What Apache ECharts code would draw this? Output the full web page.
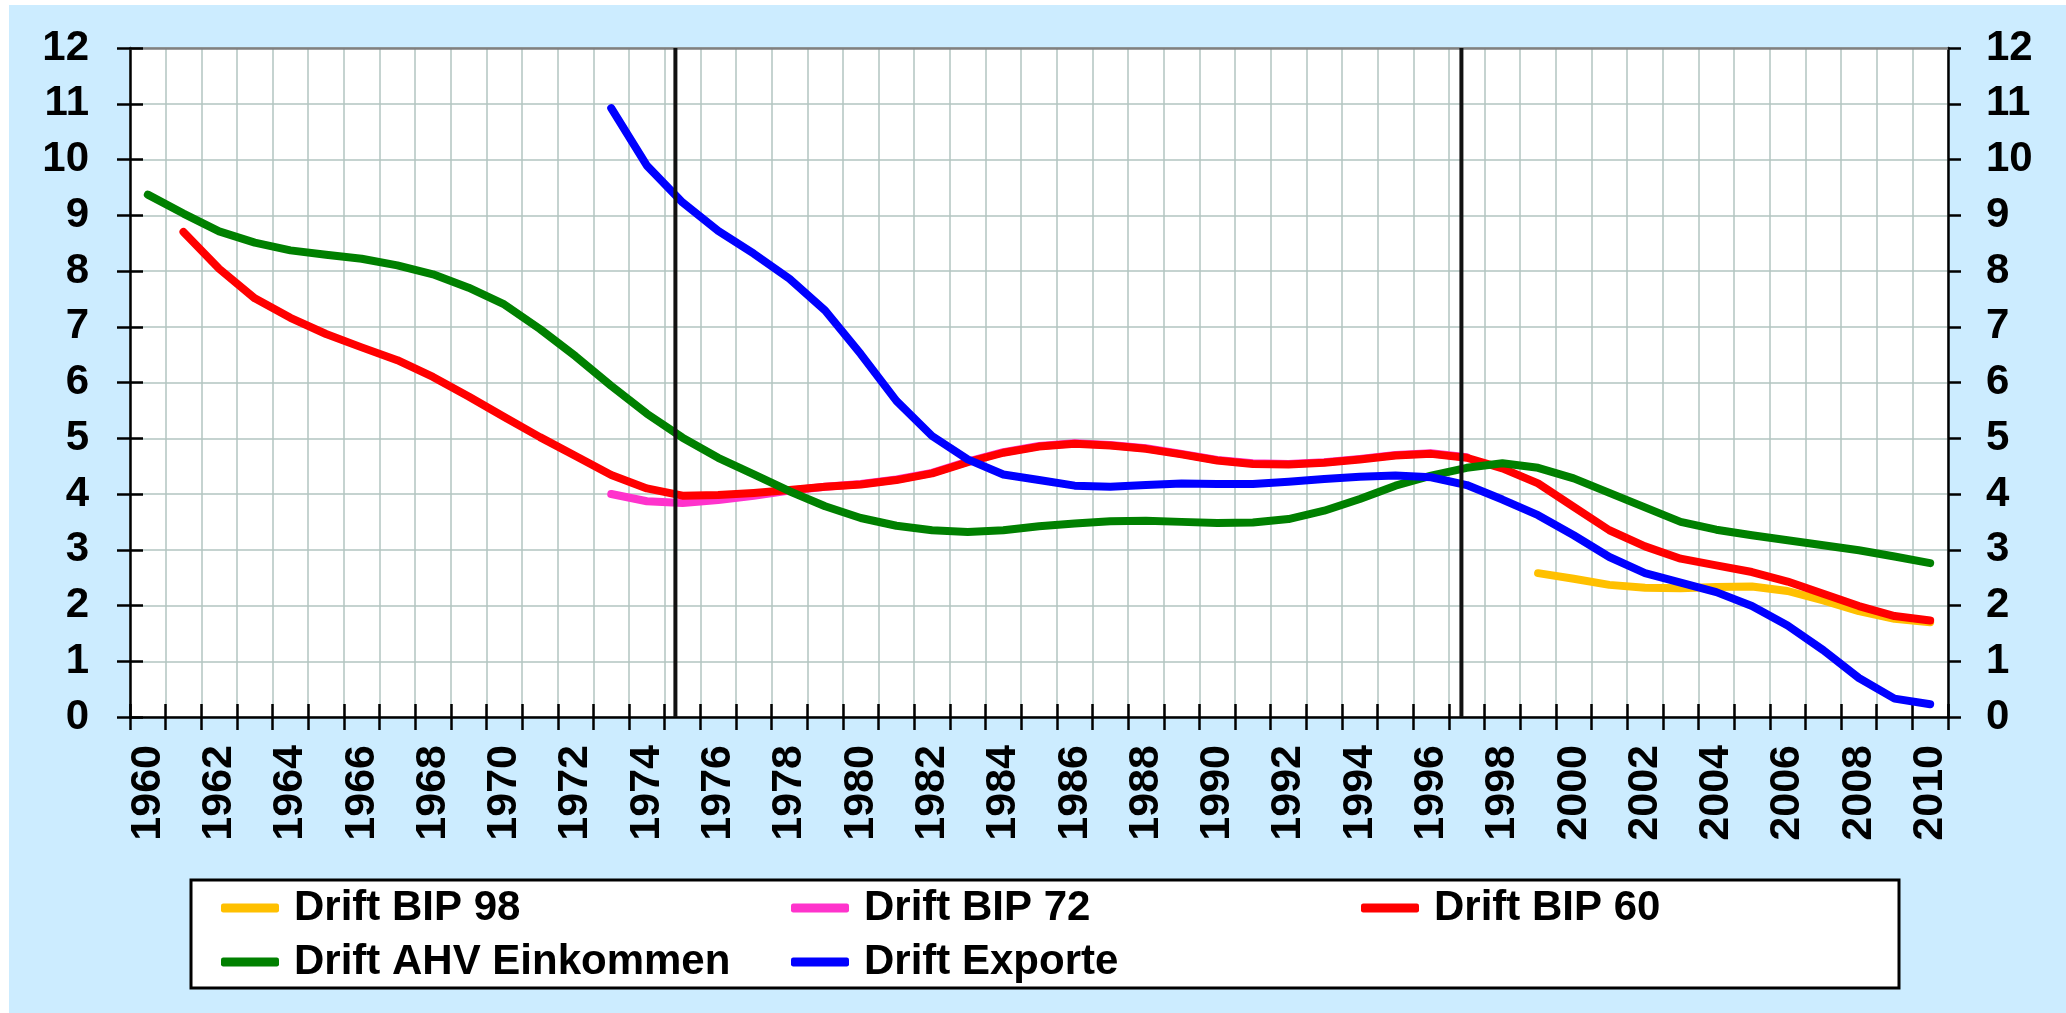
<!DOCTYPE html>
<html>
<head>
<meta charset="utf-8">
<script src="https://cdn.jsdelivr.net/npm/echarts@6/dist/echarts.min.js"></script>
<style>
html,body{margin:0;padding:0;background:#fff;}
#chart{width:2066px;height:1013px;}
</style>
</head>
<body>
<div id="chart"></div>
<script>
// ---- data ----
const years = ['1960','1961','1962','1963','1964','1965','1966','1967','1968','1969',
  '1970','1971','1972','1973','1974','1975','1976','1977','1978','1979',
  '1980','1981','1982','1983','1984','1985','1986','1987','1988','1989',
  '1990','1991','1992','1993','1994','1995','1996','1997','1998','1999',
  '2000','2001','2002','2003','2004','2005','2006','2007','2008','2009','2010'];

const yTicks = [0,1,2,3,4,5,6,7,8,9,10,11,12];

// 1960 .. 2010
const driftBIP98 = [null,null,null,null,null,null,null,null,null,null,
  null,null,null,null,null,null,null,null,null,null,
  null,null,null,null,null,null,null,null,null,null,
  null,null,null,null,null,null,null,null,null,2.58,
  2.48,2.37,2.32,2.31,2.33,2.34,2.26,2.09,1.90,1.76,1.70];

const driftBIP72 = [null,null,null,null,null,null,null,null,null,null,
  null,null,null,4.00,3.87,3.84,3.89,3.97,4.06,4.13,
  4.18,4.26,4.38,4.58,4.75,4.86,4.91,4.88,4.82,4.72,
  4.61,4.55,4.54,4.57,4.63,4.70,4.73,4.66,null,null,
  null,null,null,null,null,null,null,null,null,null,null];

const driftBIP60 = [null,8.70,8.04,7.51,7.16,6.87,6.63,6.40,6.10,5.75,
  5.38,5.02,4.68,4.34,4.10,3.97,3.98,4.02,4.07,4.13,
  4.17,4.25,4.37,4.57,4.74,4.85,4.90,4.87,4.81,4.71,
  4.60,4.54,4.53,4.56,4.62,4.69,4.72,4.65,4.46,4.19,
  3.77,3.35,3.06,2.84,2.72,2.60,2.43,2.21,1.99,1.81,1.73];

const driftAHV = [9.37,9.03,8.71,8.51,8.37,8.29,8.22,8.10,7.94,7.70,
  7.40,6.96,6.47,5.94,5.44,5.01,4.65,4.35,4.05,3.78,
  3.57,3.43,3.35,3.32,3.35,3.42,3.47,3.51,3.52,3.50,
  3.48,3.49,3.55,3.70,3.91,4.15,4.33,4.47,4.55,4.47,
  4.28,4.02,3.76,3.50,3.36,3.26,3.17,3.08,2.99,2.88,2.76];

const driftExporte = [null,null,null,null,null,null,null,null,null,null,
  null,null,null,10.92,9.89,9.23,8.72,8.31,7.86,7.29,
  6.51,5.67,5.04,4.62,4.35,4.25,4.15,4.13,4.16,4.19,
  4.18,4.18,4.22,4.27,4.31,4.33,4.30,4.16,3.90,3.62,
  3.26,2.87,2.58,2.41,2.24,1.99,1.64,1.20,0.70,0.33,0.23];

// vertical marker lines (fractional year positions)
const markerYears = [1974.8, 1996.85];

const seriesNames = ['Drift BIP 98','Drift BIP 72','Drift BIP 60','Drift AHV Einkommen','Drift Exporte'];
const seriesColors = ['#FFC000','#FF33CC','#FF0000','#008000','#0000FF'];
const seriesData = [driftBIP98, driftBIP72, driftBIP60, driftAHV, driftExporte];

// ---- chart ----
const FONT = "'Liberation Sans', Arial, sans-serif";
const chart = echarts.init(document.getElementById('chart'), null, {renderer:'canvas'});

const lineSeries = seriesNames.map((n,i)=>({
  name:n, type:'line', xAxisIndex:0, yAxisIndex:0,
  data: seriesData[i], showSymbol:false, symbol:'none', smooth:false,
  lineStyle:{color:seriesColors[i], width:8, cap:'round', join:'round'},
  itemStyle:{color:seriesColors[i]},
  emphasis:{disabled:true}, animation:false
}));

const markerSeries = markerYears.map((yr)=>({
  type:'line', xAxisIndex:2, yAxisIndex:0,
  data:[[yr, yTicks[0]],[yr, yTicks[yTicks.length-1]]],
  showSymbol:false, symbol:'none',
  lineStyle:{color:'#111', width:4},
  emphasis:{disabled:true}, animation:false, silent:true
}));

const legendPos = [[221,887],[791,887],[1361,887],[221,941],[791,941]];
const legends = seriesNames.map((n,i)=>({
  data:[n], left:legendPos[i][0], top:legendPos[i][1], padding:0,
  itemWidth:58, itemHeight:9, icon:'roundRect', selectedMode:false, z:10,
  textStyle:{fontSize:42, fontWeight:'bold', fontFamily:FONT, color:'#000', lineHeight:42, padding:[0,0,0,10]}
}));

const labelStyle = {fontSize:42, fontWeight:'bold', fontFamily:FONT, color:'#000'};

chart.setOption({
  backgroundColor:'#CCECFF',
  animation:false,
  graphic:[
    {type:'rect', z:-10, shape:{x:0,y:0,width:2066,height:5}, style:{fill:'#fff'}},
    {type:'rect', z:-10, shape:{x:0,y:0,width:9,height:1013}, style:{fill:'#fff'}},
    {type:'rect', z:0, shape:{x:191,y:880,width:1708,height:108}, style:{fill:'#fff', stroke:'#000', lineWidth:3}}
  ],
  legend: legends,
  grid:{left:130, top:48, width:1818, height:669, show:true, backgroundColor:'#fff', borderWidth:0},
  xAxis:[
    {type:'category', data:years, position:'bottom', boundaryGap:true,
     axisLine:{show:true, lineStyle:{color:'#000', width:2.5}},
     axisTick:{show:true, interval:0, length:13, inside:false, lineStyle:{color:'#000', width:2.5}},
     axisLabel:{interval:1, rotate:90, margin:28, fontSize:43, fontWeight:'bold', fontFamily:FONT, color:'#000'},
     splitLine:{show:true, interval:0, lineStyle:{color:'#B2C5C1', width:1.5}}},
    {type:'category', data:years, position:'bottom', boundaryGap:true,
     axisLine:{show:false},
     axisTick:{show:true, interval:0, length:13, inside:true, lineStyle:{color:'#000', width:2.5}},
     axisLabel:{show:false}, splitLine:{show:false}},
    {type:'value', min:1959.5, max:2010.5, show:false},
    {type:'category', data:years, position:'top', boundaryGap:true,
     axisLine:{show:true, lineStyle:{color:'#808080', width:2.5}},
     axisTick:{show:false}, axisLabel:{show:false}, splitLine:{show:false}}
  ],
  yAxis:[
    {type:'value', min:yTicks[0], max:yTicks[yTicks.length-1], interval:1, position:'left',
     axisLine:{show:true, lineStyle:{color:'#000', width:2.5}},
     axisTick:{show:true, length:13, inside:false, lineStyle:{color:'#000', width:2.5}},
     axisLabel:Object.assign({margin:41}, labelStyle),
     splitLine:{show:true, lineStyle:{color:'#B2C5C1', width:1.5}}},
    {type:'value', min:yTicks[0], max:yTicks[yTicks.length-1], interval:1, position:'left',
     axisLine:{show:false},
     axisTick:{show:true, length:13, inside:true, lineStyle:{color:'#000', width:2.5}},
     axisLabel:{show:false}, splitLine:{show:false}},
    {type:'value', min:yTicks[0], max:yTicks[yTicks.length-1], interval:1, position:'right',
     axisLine:{show:true, lineStyle:{color:'#000', width:2.5}},
     axisTick:{show:true, length:13, inside:false, lineStyle:{color:'#000', width:2.5}},
     axisLabel:Object.assign({margin:38}, labelStyle),
     splitLine:{show:false}}
  ],
  series: lineSeries.concat(markerSeries)
});
</script>
</body>
</html>
